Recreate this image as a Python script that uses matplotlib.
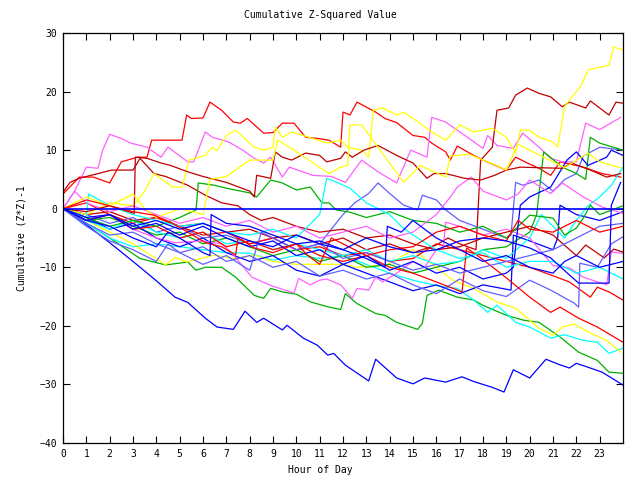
import matplotlib
matplotlib.use('Agg')
import matplotlib.pyplot as plt

# colours of the gnuplot-like palette
RED = '#ff0000'
DRED = '#c00000'
GREEN = '#00b000'
BLUE = '#0000ff'
LBLUE = '#6060ff'
MAG = '#ff60ff'
CYAN = '#00ffff'
YEL = '#ffff00'

# --- data (hour, cumulative value) ---
blue_a_h = [0, 1, 2, 3, 4, 4.8, 5.35, 6.1, 6.6, 7.3, 7.8, 8.3, 8.6, 9.4, 9.6, 10.3, 10.9, 11.35, 11.6, 12.1,
            13.1, 13.4, 14.3, 15.0, 15.5, 16.4, 17.1, 17.6, 18.4, 18.9, 19.3, 20.0, 20.7, 21.2, 21.7, 22.0,
            22.6, 23.1, 24.0]
blue_a_v = [0, -2.7, -5.8, -9, -12.3, -15.1, -16, -18.7, -20.2, -20.6, -17.5, -19.4, -18.7, -20.7, -19.9, -22.1,
            -23.3, -25, -24.7, -26.7, -29.4, -25.7, -28.9, -29.9, -28.9, -29.6, -28.7, -29.5, -30.5, -31.3, -27.5,
            -28.9, -25.7, -26.5, -27.2, -26.4, -27.2, -27.9, -30.1]

green_b_h = [0, 1, 2, 3.3, 3.9, 4.4, 5.35, 5.7, 6.1, 6.8, 7.4, 8.2, 8.6, 8.9, 9.4, 10, 10.6, 11.4, 11.9, 12.1,
             12.6, 13.4, 13.8, 14.3, 15.2, 15.4, 15.6, 16.1, 16.9, 17.6, 18, 19, 19.7, 20.4, 21.3, 22.1, 22.9,
             23.4, 24]
green_b_v = [0, -2.5, -5, -8.5, -9.1, -9.6, -9.1, -10.5, -10, -10, -11.7, -14.8, -15.3, -13.6, -14.2, -14.6,
             -15.9, -16.8, -17.2, -14.5, -16.2, -17.9, -18.2, -19.4, -20.6, -19.6, -14.8, -13.9, -15.1, -15.6,
             -16.5, -18.2, -19, -19.4, -21.9, -24.5, -25.9, -27.9, -28.1]

yellow_c_h = [0, 1, 2, 3, 3.9, 4.4, 4.8, 5.3, 6.5, 7.3, 8.2, 9, 10, 11, 12, 12.6, 13.9, 15, 16.1, 16.7, 17.6,
              18.6, 19.4, 20.4, 21, 21.4, 21.9, 22.6, 23.3, 23.9]
yellow_c_v = [0, -2, -4, -6, -8.3, -9.6, -8.3, -9.1, -7.9, -8.5, -7.9, -9, -9.5, -9.5, -9.5, -10, -9.6, -7,
              -10.3, -12.2, -13.6, -15.9, -17, -20.4, -21.6, -20.2, -19.7, -21.2, -22.5, -24.5]

cyan_d_h = [0, 1, 2, 3, 4, 5, 6, 7, 8, 9, 10, 11, 12, 13, 14, 15, 16.1, 16.9, 17.6, 18.2, 18.6, 19, 19.4, 20,
            20.9, 21.5, 22.3, 22.9, 23.4, 24]
cyan_d_v = [0, -2.5, -5, -6.5, -6, -6.5, -7, -7.5, -7.6, -8.8, -8, -8.5, -8, -9.5, -11, -12.2, -13.2, -13.6,
            -15.6, -17.7, -16.5, -17.9, -19.4, -20.2, -22.1, -21.5, -22.5, -22.8, -24.7, -23.8]

red_f_h = [0, 0.7, 1.3, 2, 2.5, 3.2, 3.6, 3.8, 5.1, 5.3, 5.5, 6, 6.3, 6.8, 7.3, 7.6, 7.9, 8.6, 9, 9.4, 9.9, 10.4,
           10.9, 11.4, 11.9, 12, 12.3, 12.6, 13.4, 13.8, 14.3, 15, 15.5, 15.8, 16.4, 16.6, 16.9, 17.6, 18, 18.7,
           19, 19.4, 19.9, 20.4, 20.9, 21.3, 22.3, 23.1, 23.9]
red_f_v = [2.5, 5.4, 5.4, 4.4, 8, 8.8, 8.8, 11.7, 11.7, 16, 15.4, 15.5, 18.2, 16.8, 14.8, 14.6, 15.4, 12.9, 13,
           14.6, 14.6, 12.2, 12, 11.7, 10.5, 16.5, 16, 18.2, 16.5, 15.4, 14.7, 12.5, 12.2, 11.2, 9.7, 8.3, 10.7,
           9.1, 8.3, 7.1, 6.6, 8.8, 7.8, 6.9, 5.7, 8, 7.1, 6, 5.4]

mag_g_h = [0, 0.5, 0.8, 1, 1.5, 1.7, 2, 2.5, 2.9, 3.6, 4.2, 4.5, 5.35, 5.6, 6.1, 6.4, 7.1, 7.7, 8.2, 8.6, 8.9,
           9.4, 9.7, 10.7, 11.5, 12.1, 12.8, 13.5, 14.3, 14.9, 15.6, 15.8, 16.4, 17.4, 18, 18.2, 18.6, 19.3,
           19.7, 20.4, 20.9, 21.4, 22, 22.4, 23, 23.9]
mag_g_v = [0, 3, 5.5, 7.1, 6.9, 10, 12.7, 12, 11.2, 10.5, 8.8, 10.5, 8, 8, 13.1, 12.2, 11.4, 10, 8.6, 7.8, 8.8,
           5.4, 7.1, 5.7, 5.5, 4.5, 8.3, 6.3, 4.4, 10, 8.8, 15.6, 14.8, 12, 10.3, 12.5, 10.8, 10.3, 12.9, 10.5,
           8.6, 8, 8, 14.6, 13.5, 15.6]

dred_e_h = [0, 1, 2, 3, 4, 5, 6, 7, 8, 9, 10, 11, 12, 13, 14, 15, 16, 16.5, 17, 17.7, 17.9, 18.4, 18.6, 19.1,
            19.4, 19.9, 20.4, 20.9, 21.4, 21.7, 22.4, 22.6, 23.4, 23.7, 24]
dred_e_v = [0, -1, -0.5, -2, -1.5, -3, -2.5, -4, -3.5, -5, -4.5, -6, -5, -7, -6, -7.5, -6.2, -5, -6, -7, 8.3,
            10.5, 16.8, 17.2, 19.4, 20.6, 19.7, 19.1, 17.4, 18.2, 17.2, 18.4, 16, 18.2, 18]

dred_1_h = [0, 0.3, 0.7, 1.5, 2.1, 3, 3.3, 3.9, 4.4, 5.35, 6.1, 6.8, 7.5, 8, 8.5, 9, 10, 11, 12, 13, 14, 15, 16,
            17, 18, 19, 20, 21, 22, 22.4, 23.2, 23.6, 24]
dred_1_v = [2.8, 4.5, 5.2, 6, 6.6, 6.6, 8.6, 6, 5.5, 4, 2.3, 1, 0.5, -1, -2, -1.5, -3, -4, -3.5, -5, -4.5, -6,
            -7, -6.5, -5, -4, -3, -4.5, -8, -6.2, -8.4, -6.9, -7.4]

dred_2_h = [0, 1, 2, 3.05, 3.1, 3.6, 4.2, 4.6, 5.35, 6, 7, 8, 8.2, 8.3, 8.9, 9.1, 9.4, 9.8, 10.4, 11, 11.3, 11.9,
            12.1, 12.4, 12.9, 13.5, 14.3, 15, 15.6, 15.9, 16.4, 17.2, 17.9, 18.5, 19, 19.6, 20.4, 21.4, 21.8,
            22.6, 23.3, 23.9]
dred_2_v = [0, -0.5, 0.5, -0.8, 8.8, 8.6, 7.8, 7.4, 6.3, 5.5, 4.5, 3, 2, 5.7, 5.2, 9.7, 8.8, 8.3, 9.5, 9.1, 8,
            8.6, 9.7, 8.8, 10, 10.8, 9.1, 7.8, 5.2, 6, 6, 5.2, 4.9, 5.7, 6.6, 7.1, 7, 6.9, 7.8, 6.6, 5.4, 6]

yel_1_h = [0, 1, 2, 3, 3.5, 3.9, 4.7, 5.1, 5.4, 6.1, 6.4, 6.6, 7, 7.4, 8.2, 8.6, 9, 9.1, 9.4, 9.8, 10.7, 11.3,
           11.9, 12.2, 12.8, 13.1, 13.3, 13.7, 14.3, 14.6, 15.4, 15.8, 16.4, 17, 17.6, 18.4, 19, 19.4, 19.6, 20,
           20.4, 21, 21.2, 21.5, 22.2, 22.5, 23.4, 23.6, 24]
yel_1_v = [0, -1, 1, 0.5, 3, 6, 3.7, 3.7, 8.3, 9.1, 10.5, 9.9, 12.5, 13.4, 10.5, 10, 10.5, 13.9, 12.2, 13.1, 12,
           11.2, 11.7, 10.5, 10, 8.8, 16.8, 17.2, 16, 16.5, 14.3, 13.1, 11.7, 14.3, 13.1, 13.7, 12.2, 9.5, 13.4,
           13.4, 12.2, 11.4, 10.5, 17.5, 21, 23.7, 24.5, 27.6, 27.1]

yel_2_h = [0, 1, 2, 3, 3.5, 4, 5, 6, 6.3, 7, 8, 9, 9.2, 9.9, 11.4, 11.9, 12.2, 12.3, 12.8, 14.6, 15.3, 16.4,
           16.6, 17.4, 18.5, 19, 19.5, 20.5, 21, 21.5, 22.5, 23, 23.9]
yel_2_v = [0, 2, 0.5, 2.5, 0, -1.5, 0, -1, 5, 5.5, 8.3, 8.3, 11.7, 10, 6, 7.1, 7.4, 14.3, 14.3, 4.5, 7.4, 5.4,
           9, 9.3, 7.5, 6.6, 11, 9, 8, 7, 9.5, 8, 7]

cyan_u_h = [0, 1, 2, 3, 4, 5, 6, 7, 8, 9, 10, 11, 12, 13, 14, 15, 16, 17, 18, 19, 20, 20.5, 21, 21.5, 22, 22.5,
            23, 23.5, 24]
cyan_u_v = [0, -2, -3.5, -2, -4, -5, -4, -6, -5.5, -7, -6, -7, -8, -7, -9, -8, -9.5, -9, -7, -8.5, -5, -1, -3,
            -5, -2, 0.5, 2, 4, 7.1]

cyan_e_h = [0, 1, 1.1, 2, 3, 4, 5, 6, 7, 8, 9, 10, 11, 11.3, 11.8, 12.3, 13, 14, 14.5, 15, 16, 17, 18, 19, 20,
            21, 22, 23, 24]
cyan_e_v = [0, -1.5, 2.5, 0.5, -1, -2, -3, -2.5, -4, -4.5, -3.5, -5, -1, 5.2, 4.4, 3.5, 1, -1, -3, -4.5, -7,
            -8.5, -7.5, -10, -9, -9, -11, -10, -12]

mag_c_h = [0, 1, 2, 3, 4, 4.8, 6, 6.8, 7.2, 8.1, 8.9, 9.9, 10.1, 10.6, 11, 11.3, 11.9, 12.4, 12.6, 13.1, 13.4,
           13.7, 14.3, 15, 15.5, 16, 16.3, 16.4, 17, 18, 19, 20, 21, 21.7, 22.3, 23.3, 23.5, 24]
mag_c_v = [0, -2, -1, -3.5, -5, -5.8, -5.5, -6, -7.4, -11.7, -13.1, -14.4, -11.9, -13, -12.2, -12, -13, -15.3,
           -13.6, -13.9, -11.7, -12.5, -11, -9, -10, -7, -6.7, -2.3, -3, -4.5, -3.5, -5, -9.7, -10.1, -11.7, -13,
           -7.4, -7.6]

mag_4_h = [0, 0.5, 1, 2, 3, 4, 5, 6, 7, 8, 9, 10, 11, 12, 13, 14, 15, 16, 16.6, 16.9, 17.5, 18, 19, 19.5, 20,
           20.9, 21.4, 22.3, 23.1, 24]
mag_4_v = [0, 3, 1, -0.5, 0.5, -1, -2.5, -1.5, -3, -2, -4, -3, -5, -4, -3, -5, -4, -1, 2, 3.7, 5.4, 3, 1.5,
           2.5, 4.9, 2.6, 4.4, 2, 0.3, -0.8]

green_2_h = [0, 1, 2, 3, 4, 5, 6, 7, 8, 9, 10, 11, 12, 13, 14, 15, 16, 17, 18, 19, 20, 20.3, 20.6, 21.4, 22,
             22.4, 22.6, 23, 24]
green_2_v = [0, -2, -1.5, -3, -4.5, -4, -6, -5, -6.5, -8, -7, -9, -8, -10, -9.5, -11, -10, -9, -7, -6.5, -4, -1,
             9.7, 7.1, 6, 5, 12.2, 11.2, 10]

green_3_h = [0, 1, 2, 3, 4, 5, 5.7, 5.8, 6.5, 7, 8, 8.3, 8.9, 9.4, 10, 10.6, 11.1, 11.4, 11.7, 12.3, 13, 14, 15,
             16, 17, 18, 19, 20, 21, 21.5, 22, 22.3, 22.6, 23, 24]
green_3_v = [0, -1.5, -3, -2, -3, -1.5, -0.2, 4.4, 4, 3.5, 2.7, 2, 4.9, 4.4, 3.2, 3.7, 1, 1, -0.2, -0.6, -1.5,
             -0.5, -2, -2.5, -4, -3, -5, -1.1, -1.6, -4.5, -3.3, -1.6, 0.6, -1, 0.5]

red_3_h = [0, 1, 2, 3, 4, 5, 6, 7, 8, 9, 10, 11, 12, 13, 14, 15, 16, 17, 18, 19, 20, 20.9, 21.7, 22.6, 22.9,
           23.4, 24]
red_3_v = [0, 1, -1, -2.5, -1.5, -3, -4.5, -4, -6, -5, -7, -6.5, -8, -7.5, -9, -8.5, -6, -7, -8, -9, -10, -11.3,
           -12.5, -15.1, -13.4, -14.2, -15.6]

red_4_h = [0, 1, 2, 3, 4, 5, 6, 7, 8, 9, 10, 11, 12, 13, 14, 15, 16, 17.1, 17.3, 17.9, 19, 20, 20.9, 21.3,
           22.1, 22.9, 24]
red_4_v = [0, -2, -1, -3.5, -3, -5, -4, -6.5, -5.5, -7, -6, -8, -9, -8, -10, -11, -12.5, -14.2, -6.7, -8.4,
           -11.8, -15.1, -17.7, -16.8, -18.7, -20.2, -22.8]

red_5_h = [0, 1, 2, 3, 3.9, 4.6, 5.35, 6.1, 6.8, 7.4, 7.5, 7.8, 8.2, 9, 10, 10.5, 11, 11.5, 12, 13, 14, 15, 16,
           17, 18, 19, 19.5, 20, 21, 22, 23, 24]
red_5_v = [0, 1.5, 0.5, -0.5, -1.1, -2.3, -4, -5.8, -6.5, -7.9, -5, -5.7, -6.7, -7.5, -6, -8, -9.5, -5, -6, -8,
           -7, -6.5, -4, -3, -4.5, -5.5, -2, -3.5, -4, -2, -4, -3]

lblue_1_h = [0, 1, 2, 3, 4, 5, 6, 7, 8, 9, 10, 11, 12, 12.5, 13.1, 13.5, 14, 14.6, 15.2, 15.4, 16, 16.4, 17, 18,
             19, 19.2, 19.4, 19.7, 20.4, 21, 21.5, 22, 22.3, 23, 24]
lblue_1_v = [0, -1, -2.5, -1.5, -4, -3, -5, -4.5, -6, -5, -7, -6, -1, 1, 2.6, 4.4, 2.6, 0.6, -0.2, 2.3, 1.5, -0.2,
             -2, -3.5, -5, -4.5, 4.5, 4, 4.9, 3, 5, 6, 9, 10.5, 10]

lblue_2_h = [0, 1, 2, 3, 4, 5, 6, 7, 8, 9, 10, 11, 12, 13, 14, 15, 16, 17, 18, 19, 20, 20.9, 21.9, 22.1, 22.15,
             22.9, 23.5, 24]
lblue_2_v = [0, -2.5, -4.5, -4, -6, -7.5, -6.5, -9, -8, -10, -9, -11.5, -10.5, -12, -11, -13, -14.5, -12, -14,
             -15, -12.2, -13.9, -16.1, -16.8, -9.3, -10, -6, -4.8]

lblue_3_h = [0, 1, 2, 3, 4, 4.5, 5, 6, 7, 8, 8.5, 9, 10, 11, 12, 13, 14, 15, 16, 17, 18, 19, 20, 21, 22, 23, 24]
lblue_3_v = [0, -3, -5.5, -7, -9, -6, -7.5, -9.5, -8, -10.5, -4, -5, -7, -6, -8.5, -7.5, -9, -10.5, -9.5, -11,
             -10, -9, -8, -7, -5, -3, -2.5]

blue_h_h = [0, 1, 2, 3, 4, 5, 6, 7, 8, 9, 10, 11, 12, 13, 14, 15, 16, 17, 18, 19.2, 19.3, 20, 21, 21.2, 21.3, 22,
            23, 24]
blue_h_v = [0, -1.5, -3.5, -2.5, -5, -6.5, -5, -7.5, -9, -8, -10.5, -11.5, -9.5, -11, -12.5, -14, -13, -14.5, -13,
            -13.9, -4.5, -5.5, -7, -5, 0.6, -1, -2, -0.5]

blue_i_h = [0, 1, 2, 3, 4, 5, 6, 7, 8, 9, 10, 11, 12, 13, 14, 15, 16, 17, 18, 19, 19.3, 19.6, 20, 20.9, 21.6, 22,
            22.5, 23.3, 23.5, 24]
blue_i_v = [0, -2, -1, -3.5, -2.5, -4.5, -3, -5, -6.5, -5.5, -8, -7, -9.5, -8, -10.5, -9, -11, -10, -12, -11, -10,
            0.6, 2, 3.7, 8.3, 9.7, 7.4, 8.8, 10, 9.1]

blue_j_h = [0, 1, 2, 3, 4, 4.5, 5, 6, 6.3, 6.35, 7, 8, 9, 10, 11, 12, 13, 13.8, 13.9, 14.5, 15, 16, 17, 18, 19,
            20, 21, 21.5, 22, 23, 24]
blue_j_v = [0, -2, -3, -5, -6.5, -4, -5, -7.5, -8, -1, -2.5, -3, -4.5, -6, -5.5, -7, -8.5, -10, -3, -4, -2, -5, -7,
            -9, -8, -10, -11, -9, -8, -10, -9]

blue_f_h = [0, 1, 2, 3, 4, 5, 6, 7, 8, 9, 10, 11, 12, 13, 14, 15, 16, 17, 18, 19, 20, 20.9, 21.7, 22.1, 23.4,
            23.5, 23.9]
blue_f_v = [0, -1.5, -1, -3, -2, -3.5, -2.5, -4, -5.5, -6.5, -4.5, -6, -7, -5, -6.5, -7.5, -7, -5.5, -5, -5.5,
            -6.7, -8.4, -11.3, -12.7, -12.7, 0.6, 4.5]

series = [
    (RED, red_f_h, red_f_v), (GREEN, green_b_h, green_b_v), (BLUE, blue_a_h, blue_a_v),
    (MAG, mag_g_h, mag_g_v), (CYAN, cyan_d_h, cyan_d_v), (DRED, dred_e_h, dred_e_v),
    (YEL, yellow_c_h, yellow_c_v), (LBLUE, lblue_1_h, lblue_1_v),
    (RED, red_3_h, red_3_v), (GREEN, green_2_h, green_2_v), (BLUE, blue_h_h, blue_h_v),
    (MAG, mag_c_h, mag_c_v), (CYAN, cyan_u_h, cyan_u_v), (DRED, dred_1_h, dred_1_v),
    (YEL, yel_1_h, yel_1_v), (LBLUE, lblue_2_h, lblue_2_v),
    (RED, red_4_h, red_4_v), (GREEN, green_3_h, green_3_v), (BLUE, blue_i_h, blue_i_v),
    (MAG, mag_4_h, mag_4_v), (CYAN, cyan_e_h, cyan_e_v), (DRED, dred_2_h, dred_2_v),
    (YEL, yel_2_h, yel_2_v), (LBLUE, lblue_3_h, lblue_3_v),
    (RED, red_5_h, red_5_v), (BLUE, blue_j_h, blue_j_v), (BLUE, blue_f_h, blue_f_v),
]

hour_ticks = list(range(0, 24))
value_ticks = list(range(-40, 31, 10))

plt.rcParams['font.family'] = ['DejaVu Sans Mono']

fig = plt.figure(figsize=(6.4, 4.8), dpi=100)
ax = fig.add_axes([63 / 640, 1 - 443 / 480, 560 / 640, 410 / 480])

for color, h, v in series:
    ax.plot(h, v, color=color, lw=0.9)

ax.axhline(0, color=BLUE, lw=1.2)

ax.set_xlim(0, 24)
ax.set_ylim(-40, 30)
ax.set_xticks(hour_ticks)
ax.set_yticks(value_ticks)
ax.tick_params(direction='in', top=True, right=True, length=5, width=0.8, labelsize=7, pad=4)
for s in ax.spines.values():
    s.set_linewidth(0.9)

fig.text(0.5, 1 - 15 / 480, 'Cumulative Z-Squared Value', ha='center', va='center', fontsize=7)
fig.text(0.5, 1 - 470 / 480, 'Hour of Day', ha='center', va='center', fontsize=7)
fig.text(22 / 640, 0.5 - (238 - 240) / 480, 'Cumulative (Z*Z)-1', ha='center', va='center',
         rotation=90, fontsize=7)

fig.savefig('out.png', dpi=100)
